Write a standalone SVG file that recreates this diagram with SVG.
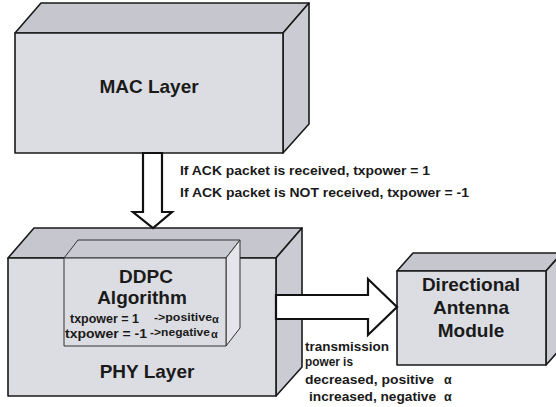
<svg xmlns="http://www.w3.org/2000/svg" width="556" height="407" viewBox="0 0 556 407">
  <style>
    .front { fill: #dcdde2; stroke: #1a1a1a; stroke-width: 1.6; stroke-linejoin: round; }
    .top { fill: #c6c7ce; stroke: #1a1a1a; stroke-width: 1.6; stroke-linejoin: round; }
    .side { fill: #cbccd3; stroke: #1a1a1a; stroke-width: 1.6; stroke-linejoin: round; }
    .inner { stroke: #333; stroke-width: 1; stroke-linejoin: round; }
    .arrow { fill: #ffffff; stroke: #111; stroke-width: 2.2; stroke-linejoin: miter; }
    .title { font-family: "Liberation Sans", Arial, sans-serif; font-weight: bold; font-size: 19px; fill: #1a1a1a; text-anchor: middle; }
    .label { font-family: "Liberation Sans", Arial, sans-serif; font-weight: bold; font-size: 12.5px; fill: #1a1a1a; }
    .small { font-family: "Liberation Sans", Arial, sans-serif; font-weight: bold; font-size: 11px; fill: #1a1a1a; }
  </style>

  <!-- MAC layer block -->
  <g id="mac">
    <polygon class="top" points="15,33 41,3 309,3 283,33"/>
    <polygon class="side" points="283,33 309,3 309,124 283,153"/>
    <rect class="front" x="15" y="33" width="268" height="120"/>
    <text class="title" x="149" y="93">MAC Layer</text>
  </g>

  <!-- PHY layer block with embedded DDPC algorithm -->
  <g id="phy">
    <polygon class="top" points="8,258 34,228 302,228 276,258"/>
    <polygon class="side" points="276,258 302,228 302,367 276,396"/>
    <rect class="front" x="8" y="258" width="268" height="138"/>
    <text class="title" x="147" y="378">PHY Layer</text>
  </g>

  <g id="ddpc">
    <polygon class="inner" fill="#c9cad1" points="64,258 78,240 240,240 226,258"/>
    <polygon class="inner" fill="#e4e4ea" points="226,258 240,240 240,328 226,346"/>
    <rect class="inner" fill="#dcdde2" x="64" y="258" width="162" height="88"/>
    <text class="title" x="146" y="283">DDPC</text>
    <text class="title" x="142" y="304">Algorithm</text>
    <text class="label" x="70" y="323" font-size="14" textLength="69" lengthAdjust="spacingAndGlyphs">txpower = 1</text>
    <text class="small" x="154" y="321" textLength="58" lengthAdjust="spacingAndGlyphs">-&gt;positive</text>
    <text class="small" x="212" y="323" font-size="12">α</text>
    <text class="label" x="65" y="338" font-size="14" textLength="82" lengthAdjust="spacingAndGlyphs">txpower = -1</text>
    <text class="small" x="150" y="336" textLength="60" lengthAdjust="spacingAndGlyphs">-&gt;negative</text>
    <text class="small" x="211" y="338" font-size="12">α</text>
  </g>

  <!-- Directional antenna module block -->
  <g id="antenna">
    <polygon class="top" points="397,271 413,253 562,253 546,271"/>
    <polygon class="side" points="546,271 562,253 562,347 546,365"/>
    <rect class="front" x="397" y="271" width="149" height="94"/>
    <text class="title" x="471" y="291">Directional</text>
    <text class="title" x="471" y="314">Antenna</text>
    <text class="title" x="471" y="337">Module</text>
  </g>

  <!-- Block arrows -->
  <g id="connectors">
    <polygon class="arrow" points="143,153 162,153 162,212 172,212 153,228 133,212 143,212"/>
    <polygon class="arrow" points="276,295 368,295 368,279 397,307 368,335 368,319 276,319"/>
  </g>

  <!-- Arrow annotations -->
  <g id="labels">
    <text class="label" x="180" y="175" textLength="250" lengthAdjust="spacingAndGlyphs">If ACK packet is received, txpower = 1</text>
    <text class="label" x="180" y="197" textLength="289" lengthAdjust="spacingAndGlyphs">If ACK packet is NOT received, txpower = -1</text>
    <text class="label" x="305" y="351" font-size="13" textLength="84" lengthAdjust="spacingAndGlyphs">transmission</text>
    <text class="label" x="305" y="366" font-size="13" textLength="48" lengthAdjust="spacingAndGlyphs">power is</text>
    <text class="label" x="305" y="384" font-size="13" textLength="129" lengthAdjust="spacingAndGlyphs">decreased, positive</text>
    <text class="label" x="444" y="384" font-size="13">α</text>
    <text class="label" x="309" y="401" font-size="13" textLength="127" lengthAdjust="spacingAndGlyphs">increased, negative</text>
    <text class="label" x="444" y="401" font-size="13">α</text>
  </g>
</svg>
